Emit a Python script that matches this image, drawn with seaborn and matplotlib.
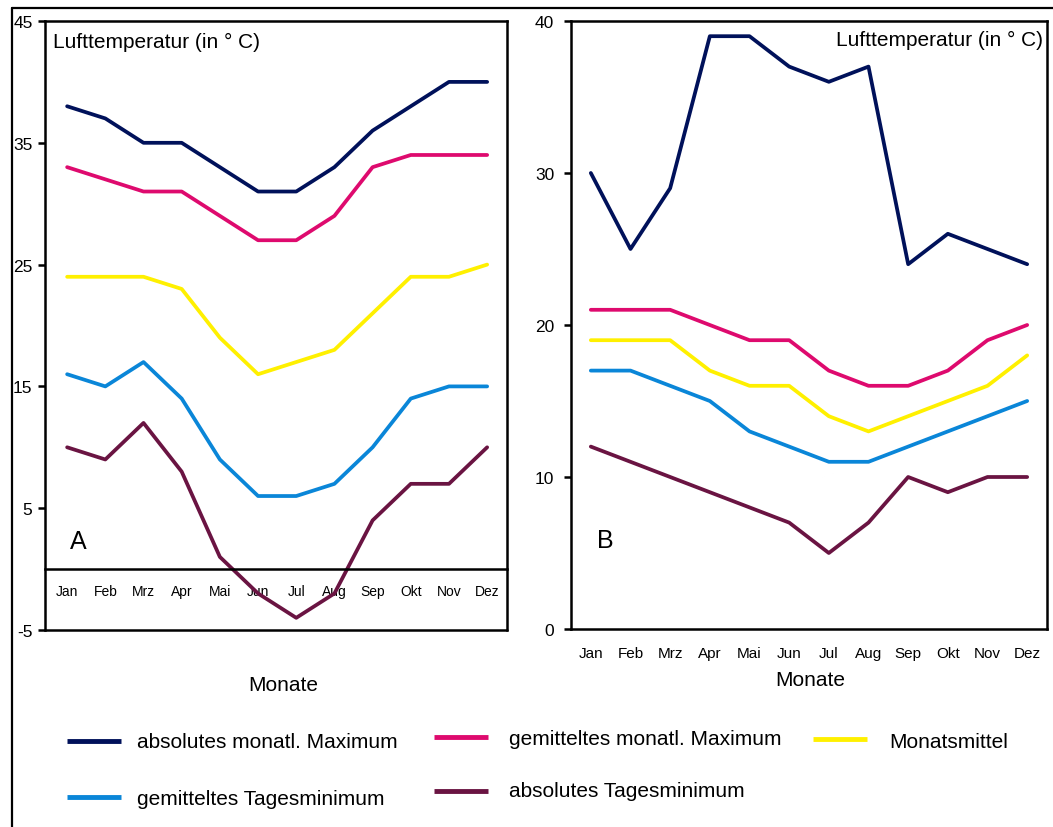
import matplotlib
matplotlib.use("Agg")
import matplotlib.pyplot as plt
from matplotlib.lines import Line2D
from matplotlib.ticker import MultipleLocator, FixedLocator
import seaborn as sns
import pandas as pd
import numpy as np

sns.set_style("white")
plt.rcParams['font.family'] = ['Liberation Sans', 'DejaVu Sans']
plt.rcParams['axes.unicode_minus'] = False
plt.rcParams['text.color'] = 'black'
plt.rcParams['xtick.color'] = 'black'
plt.rcParams['ytick.color'] = 'black'
plt.rcParams['xtick.labelcolor'] = 'black'
plt.rcParams['ytick.labelcolor'] = 'black'

# ---- data ----
months = ['Jan', 'Feb', 'Mrz', 'Apr', 'Mai', 'Jun', 'Jul', 'Aug', 'Sep', 'Okt', 'Nov', 'Dez']
series = ['absolutes monatl. Maximum', 'gemitteltes monatl. Maximum', 'Monatsmittel',
          'gemitteltes Tagesminimum', 'absolutes Tagesminimum']

a_abs_max = [38, 37, 35, 35, 33, 31, 31, 33, 36, 38, 40, 40]
a_mean_max = [33, 32, 31, 31, 29, 27, 27, 29, 33, 34, 34, 34]
a_mean = [24, 24, 24, 23, 19, 16, 17, 18, 21, 24, 24, 25]
a_mean_min = [16, 15, 17, 14, 9, 6, 6, 7, 10, 14, 15, 15]
a_abs_min = [10, 9, 12, 8, 1, -2, -4, -2, 4, 7, 7, 10]

b_abs_max = [30, 25, 29, 39, 39, 37, 36, 37, 24, 26, 25, 24]
b_mean_max = [21, 21, 21, 20, 19, 19, 17, 16, 16, 17, 19, 20]
b_mean = [19, 19, 19, 17, 16, 16, 14, 13, 14, 15, 16, 18]
b_mean_min = [17, 17, 16, 15, 13, 12, 11, 11, 12, 13, 14, 15]
b_abs_min = [12, 11, 10, 9, 8, 7, 5, 7, 10, 9, 10, 10]

colors = ['#00115a', '#de0a6e', '#fff000', '#0a86d8', '#6a1442']
palette = dict(zip(series, colors))


def long_frame(cols):
    rows = []
    for name, vals in zip(series, cols):
        for i, v in enumerate(vals):
            rows.append({'pos': i, 'Monat': months[i], 'wert': v, 'reihe': name})
    return pd.DataFrame(rows)


df_a = long_frame([a_abs_max, a_mean_max, a_mean, a_mean_min, a_abs_min])
df_b = long_frame([b_abs_max, b_mean_max, b_mean, b_mean_min, b_abs_min])

W, H = 1053, 828
fig = plt.figure(figsize=(W / 100, H / 100), dpi=100)


def fx(px):
    return px / W


def fy(py):
    return 1 - py / H


ax_a = fig.add_axes([fx(45), fy(631), fx(507) - fx(45), fy(22) - fy(631)])
ax_b = fig.add_axes([fx(571), fy(630), fx(1047) - fx(571), fy(22) - fy(630)])

for ax, df in [(ax_a, df_a), (ax_b, df_b)]:
    sns.lineplot(data=df, x='pos', y='wert', hue='reihe', palette=palette,
                 hue_order=series, linewidth=2.7, legend=False, ax=ax,
                 clip_on=False)
    for sp in ax.spines.values():
        sp.set_visible(True)
        sp.set_color('black')
        sp.set_linewidth(1.8)
    ax.set_xlabel('')
    ax.set_ylabel('')
    ax.xaxis.set_major_locator(FixedLocator(range(12)))
    ax.set_xticklabels(months, fontsize=11)
    ax.tick_params(axis='x', which='major', length=0)
    ax.tick_params(axis='x', which='minor', length=5, width=1.8, direction='out',
                   color='black')
    ax.tick_params(axis='y', which='major', labelsize=12.5, length=5, width=1.8,
                   direction='out', color='black', left=True)
    ax.grid(False)

# panel A
ax_a.set_xlim(-0.58, 11.52)
ax_a.set_ylim(-5, 45)
ax_a.yaxis.set_major_locator(FixedLocator([-5, 5, 15, 25, 35, 45]))
ax_a.spines['bottom'].set_position(('data', 0))
ax_a.xaxis.set_minor_locator(FixedLocator(np.arange(0.5, 11, 1)))
ax_a.tick_params(axis='x', which='major', pad=11)
ax_a.tick_params(axis='y', pad=4)
ax_a.axhline(-5, color='black', linewidth=1.8, clip_on=False)
ax_a.text(0.018, 0.967, 'Lufttemperatur (in ° C)', transform=ax_a.transAxes,
          fontsize=15, ha='left', va='center')
ax_a.text(0.054, 0.146, 'A', transform=ax_a.transAxes, fontsize=18,
          ha='left', va='center')

# panel B
ax_b.set_xlim(-0.5, 11.5)
ax_b.set_ylim(0, 40)
ax_b.yaxis.set_major_locator(MultipleLocator(10))
ax_b.xaxis.set_minor_locator(FixedLocator(np.arange(-0.5, 12, 1)))
ax_b.tick_params(axis='x', which='major', pad=12)
ax_b.tick_params(axis='y', pad=7)
ax_b.text(0.992, 0.97, 'Lufttemperatur (in ° C)', transform=ax_b.transAxes,
          fontsize=15, ha='right', va='center')
ax_b.text(0.055, 0.146, 'B', transform=ax_b.transAxes, fontsize=18,
          ha='left', va='center')

fig.text(fx(283), fy(686), 'Monate', fontsize=15, ha='center', va='center')
fig.text(fx(810), fy(681), 'Monate', fontsize=15, ha='center', va='center')

# legend entries (line start, line end, line y, text x, text baseline)
legend_pos = [
    (67, 121, 742, 137, 748),
    (434, 488, 738, 509, 745),
    (813, 867, 740, 889, 748),
    (67, 121, 798, 137, 805),
    (434, 488, 792, 509, 797),
]
for name, (x0, x1, ly, tx, tb) in zip(series, legend_pos):
    fig.add_artist(Line2D([fx(x0), fx(x1)], [fy(ly), fy(ly)],
                          color=palette[name], linewidth=3.5,
                          solid_capstyle='butt'))
    fig.text(fx(tx), fy(tb), name, fontsize=15, ha='left', va='baseline')

# outer frame
fig.add_artist(Line2D([fx(12), fx(12)], [0, fy(9)], color='black', linewidth=1.6))
fig.add_artist(Line2D([fx(12), 1], [fy(9), fy(9)], color='black', linewidth=1.6))

fig.savefig('out.png', dpi=100)
